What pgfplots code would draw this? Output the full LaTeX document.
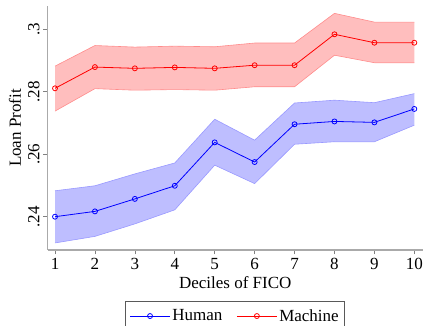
\documentclass[border=0pt]{standalone}
\usepackage{pgfplots}
\pgfplotsset{compat=1.18}
\usepackage{pgfplotstable}
\usepgfplotslibrary{fillbetween}
\usepackage{fontspec}
\setmainfont{Liberation Serif}

\pgfplotstableread{
x h hlo hhi m mlo mhi
1 .2400 .2316 .2483 .2811 .2738 .2882
2 .2417 .2337 .2499 .2879 .2810 .2948
3 .2457 .2377 .2537 .2875 .2805 .2943
4 .2499 .2422 .2572 .2878 .2807 .2946
5 .2638 .2565 .2712 .2875 .2805 .2944
6 .2575 .2506 .2645 .2885 .2816 .2956
7 .2696 .2632 .2764 .2885 .2816 .2956
8 .2705 .2640 .2773 .2984 .2917 .3051
9 .2702 .2640 .2765 .2957 .2893 .3023
10 .2745 .2693 .2794 .2957 .2893 .3023
}\data

\definecolor{hblue}{RGB}{0,0,255}
\definecolor{mred}{RGB}{255,0,0}
\definecolor{hband}{RGB}{190,190,255}
\definecolor{mband}{RGB}{255,190,190}
\definecolor{axgray}{RGB}{170,170,170}

\begin{document}
\begin{tikzpicture}[font=\fontsize{17}{20}\selectfont]
\begin{axis}[
  at={(47.7pt,76pt)}, anchor=south west,
  scale only axis, width=375pt, height=244pt,
  xmin=0.817, xmax=10.21, ymin=0.22934, ymax=0.30746,
  axis x line=bottom, axis y line=left,
  axis line style={-, axgray, line width=1.5pt},
  tick align=outside, major tick length=4.5pt,
  tick style={gray, line width=0.6pt},
  xtick={1,...,10},
  ytick={0.24,0.26,0.28,0.3},
  yticklabels={.24,.26,.28,.3},
  /pgf/number format/assume math mode=true,
  yticklabel style={rotate=90, anchor=south},
  xlabel={Deciles of FICO}, ylabel={Loan Profit},
  xlabel style={at={(axis description cs:0.5,-0.135)}, anchor=center},
  ylabel style={at={(axis description cs:-0.087,0.5)}, anchor=center},
  legend columns=2,
  legend style={at={(0.5,-0.209)}, anchor=north, draw=gray!70!black, line width=0.8pt,
    inner xsep=4pt, inner ysep=6pt,
    /tikz/every even column/.append style={column sep=12pt}},
  legend image code/.code={\draw[mark repeat=2,mark phase=2] plot coordinates {(0pt,0pt) (20pt,0pt) (40pt,0pt)};},
]
\addplot[name path=mhi, draw=mred!45, line width=0.6pt, forget plot] table[x=x,y=mhi]{\data};
\addplot[name path=mlo, draw=mred!45, line width=0.6pt, forget plot] table[x=x,y=mlo]{\data};
\addplot[mband, forget plot] fill between[of=mhi and mlo];
\addplot[name path=hhi, draw=hblue!40, line width=0.6pt, forget plot] table[x=x,y=hhi]{\data};
\addplot[name path=hlo, draw=hblue!40, line width=0.6pt, forget plot] table[x=x,y=hlo]{\data};
\addplot[hband, forget plot] fill between[of=hhi and hlo];
\addplot[hblue, line width=0.8pt, mark=o, mark size=2.5pt, mark options={line width=0.8pt}] table[x=x,y=h]{\data};
\addlegendentry{Human}
\addplot[mred, line width=0.8pt, mark=o, mark size=2.5pt, mark options={line width=0.8pt}] table[x=x,y=m]{\data};
\addlegendentry{Machine}
\end{axis}
\pgfresetboundingbox
\useasboundingbox (0,0) rectangle (425pt,326pt);
\end{tikzpicture}
\end{document}
